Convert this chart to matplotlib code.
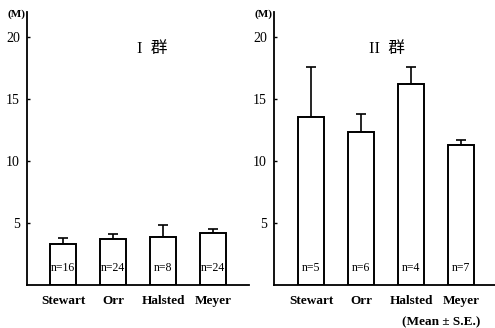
import matplotlib.pyplot as plt
import numpy as np

plt.rcParams['font.family'] = ['Liberation Serif', 'Noto Sans CJK JP']

categories = ["Stewart", "Orr", "Halsted", "Meyer"]

# group I
g1_mean = [3.3, 3.7, 3.85, 4.2]
g1_se = [0.5, 0.4, 1.0, 0.35]
g1_n = ["n=16", "n=24", "n=8", "n=24"]

# group II
g2_mean = [13.55, 12.3, 16.2, 11.3]
g2_se = [4.0, 1.5, 1.4, 0.4]
g2_n = ["n=5", "n=6", "n=4", "n=7"]

W, H = 495, 328
fig = plt.figure(figsize=(W / 100, H / 100), dpi=100)

bottom = (H - 285) / H
height = (285 - 12) / H
ax1 = fig.add_axes([27 / W, bottom, 222 / W, height])
ax2 = fig.add_axes([274 / W, bottom, 221 / W, height])


def draw(ax, means, ses, ns, title, title_x, xlim):
    x = np.arange(len(categories))
    ax.bar(x, means, width=0.52, color='white', edgecolor='black', linewidth=1.4, zorder=2)
    ax.errorbar(x, means, yerr=[np.zeros(len(ses)), ses], fmt='none', ecolor='black',
                elinewidth=1.2, capsize=3.5, capthick=1.2, zorder=1)
    for xi, lab in zip(x, ns):
        ax.text(xi, 1.4, lab, ha='center', va='center', fontsize=8.5, zorder=3)
    ax.set_xlim(*xlim)
    ax.set_ylim(0, 22)
    ax.set_yticks([5, 10, 15, 20])
    ax.set_yticklabels(['5', '10', '15', '20'], fontsize=10)
    ax.set_xticks(x)
    ax.set_xticklabels(categories, fontsize=9.5, fontweight='bold')
    ax.tick_params(axis='x', length=0, pad=7)
    ax.tick_params(axis='y', length=2.5, width=1, direction='in', pad=5)
    for s in ['top', 'right']:
        ax.spines[s].set_visible(False)
    ax.spines['left'].set_linewidth(1.3)
    ax.spines['bottom'].set_linewidth(1.3)
    ax.annotate('(M)', xy=(0, 21.8), xycoords=ax.get_yaxis_transform(),
                xytext=(-1, 0), textcoords='offset points', ha='right', va='center',
                fontsize=8, fontweight='bold', annotation_clip=False)
    ax.text(title_x, 19.0, title, ha='center', va='center', fontsize=12)


draw(ax1, g1_mean, g1_se, g1_n, 'I  群', 1.78, (-0.72, 3.72))
draw(ax2, g2_mean, g2_se, g2_n, 'II  群', 1.51, (-0.74, 3.68))

fig.text(441 / W, 1 - 322 / H, '(Mean ± S.E.)', ha='center', va='center',
         fontsize=9.5, fontweight='bold')

fig.savefig('out.png', dpi=100)
